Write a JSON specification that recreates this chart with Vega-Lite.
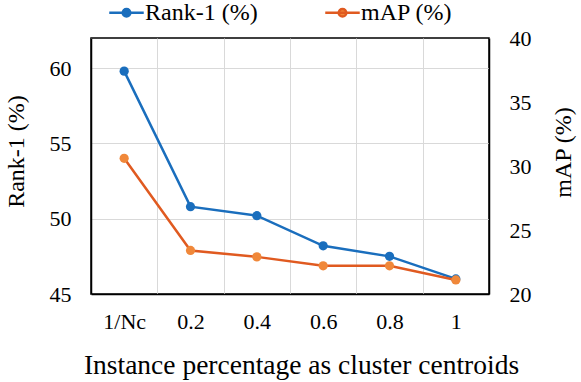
{
  "$schema": "https://vega.github.io/schema/vega-lite/v6.json",
  "width": 398,
  "height": 256,
  "autosize": {"type": "none"},
  "padding": {"left": 91, "top": 38, "right": 92, "bottom": 88},
  "background": "white",
  "view": {"stroke": "#000000", "strokeWidth": 1.5, "strokeOpacity": 1},
  "config": {
    "font": "Liberation Serif",
    "style": {
      "guide-label": {"font": "Liberation Serif", "fill": "black"},
      "guide-title": {"font": "Liberation Serif", "fill": "black"}
    },
    "legend": {"labelFont": "Liberation Serif", "titleFont": "Liberation Serif"},
    "axis": {
      "labelFont": "Liberation Serif",
      "titleFont": "Liberation Serif",
      "labelColor": "black",
      "titleColor": "black",
      "titleFontWeight": "normal",
      "ticks": false,
      "tickSize": 0,
      "domain": true,
      "domainColor": "#000000",
      "domainWidth": 1.5,
      "gridColor": "#d9d9d9",
      "gridWidth": 1,
      "labelFontSize": 22,
      "titleFontSize": 24,
      "zindex": 0
    }
  },
  "data": {
    "values": [
      {"x": "1/Nc", "series": "Rank-1 (%)", "value": 59.8},
      {"x": "0.2", "series": "Rank-1 (%)", "value": 50.8},
      {"x": "0.4", "series": "Rank-1 (%)", "value": 50.2},
      {"x": "0.6", "series": "Rank-1 (%)", "value": 48.2},
      {"x": "0.8", "series": "Rank-1 (%)", "value": 47.5},
      {"x": "1", "series": "Rank-1 (%)", "value": 46.0},
      {"x": "1/Nc", "series": "mAP (%)", "value": 30.6},
      {"x": "0.2", "series": "mAP (%)", "value": 23.4},
      {"x": "0.4", "series": "mAP (%)", "value": 22.9},
      {"x": "0.6", "series": "mAP (%)", "value": 22.2},
      {"x": "0.8", "series": "mAP (%)", "value": 22.2},
      {"x": "1", "series": "mAP (%)", "value": 21.1}
    ]
  },
  "encoding": {
    "x": {
      "field": "x",
      "type": "ordinal",
      "sort": ["1/Nc", "0.2", "0.4", "0.6", "0.8", "1"],
      "scale": {"type": "band", "paddingInner": 0, "paddingOuter": 0},
      "axis": {
        "title": "Instance percentage as cluster centroids",
        "titleFontSize": 27.5,
        "labelAngle": 0,
        "labelPadding": 17,
        "labelFont": "Liberation Serif",
        "tickBand": "extent",
        "grid": true,
        "titleX": 210,
        "titleY": 71,
        "titleAlign": "center",
        "titleBaseline": "middle"
      }
    }
  },
  "layer": [
    {
      "transform": [{"filter": "datum.series === 'Rank-1 (%)'"}],
      "encoding": {
        "y": {
          "field": "value",
          "type": "quantitative",
          "scale": {"domain": [45, 62], "nice": false, "zero": false},
          "axis": {
            "orient": "left",
            "values": [45, 50, 55, 60],
            "grid": true,
            "labelPadding": 20,
            "labelFont": "Liberation Serif",
            "title": "Rank-1 (%)",
            "titleAngle": -90,
            "titleX": -75,
            "titleY": 113,
            "titleAlign": "center",
            "titleBaseline": "middle"
          }
        }
      },
      "layer": [
        {
          "mark": {"type": "line", "strokeWidth": 2.5},
          "encoding": {
            "color": {
              "field": "series",
              "type": "nominal",
              "scale": {"domain": ["Rank-1 (%)", "mAP (%)"], "range": ["#1a6ebd", "#e05a20"]},
              "legend": {
                "orient": "none",
                "legendX": 17,
                "legendY": -44,
                "direction": "horizontal",
                "title": null,
                "labelFontSize": 24,
                "labelFont": "Liberation Serif",
                "labelColor": "black",
                "labelOffset": 0,
                "columnPadding": 62,
                "symbolType": "M-1,0L1,0M0.22,0A0.22,0.22,0,1,1,-0.22,0A0.22,0.22,0,1,1,0.22,0Z",
                "symbolSize": 1190,
                "symbolStrokeWidth": 2.5,
                "encode": {
                  "labels": {
                    "update": {
                      "font": {"value": "Liberation Serif"}
                    }
                  },
                  "symbols": {
                    "update": {
                      "fill": {"scale": "fill", "field": "value"},
                      "stroke": {"scale": "color", "field": "value"},
                      "opacity": {"value": 1}
                    }
                  }
                }
              }
            }
          }
        },
        {
          "mark": {"type": "point", "filled": true, "size": 85, "opacity": 1, "strokeWidth": 0},
          "encoding": {
            "fill": {
              "field": "series",
              "type": "nominal",
              "scale": {"domain": ["Rank-1 (%)", "mAP (%)"], "range": ["#1a6ebd", "#f0883a"]},
              "legend": null
            }
          }
        }
      ]
    },
    {
      "transform": [{"filter": "datum.series === 'mAP (%)'"}],
      "encoding": {
        "y": {
          "field": "value",
          "type": "quantitative",
          "scale": {"domain": [20, 40], "nice": false, "zero": false},
          "axis": {
            "orient": "right",
            "values": [20, 25, 30, 35, 40],
            "grid": false,
            "labelPadding": 20,
            "labelFont": "Liberation Serif",
            "title": "mAP (%)",
            "titleAngle": -90,
            "titleX": 74,
            "titleY": 114,
            "titleAlign": "center",
            "titleBaseline": "middle"
          }
        }
      },
      "layer": [
        {
          "mark": {"type": "line", "strokeWidth": 2.5},
          "encoding": {
            "color": {"field": "series", "type": "nominal"}
          }
        },
        {
          "mark": {"type": "point", "filled": true, "size": 85, "opacity": 1, "strokeWidth": 0},
          "encoding": {
            "fill": {"field": "series", "type": "nominal", "legend": null}
          }
        }
      ]
    }
  ],
  "resolve": {"scale": {"y": "independent"}}
}
